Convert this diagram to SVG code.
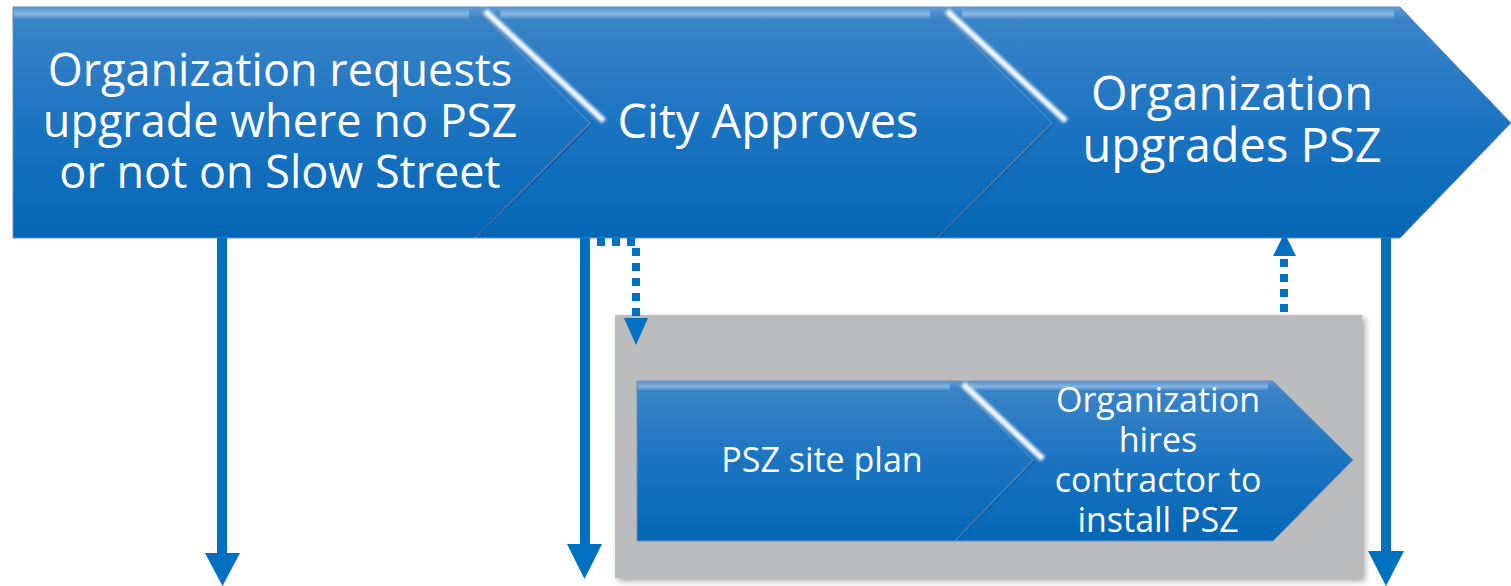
<svg xmlns="http://www.w3.org/2000/svg" width="1511" height="586" viewBox="0 0 1511 586">
<defs>
<linearGradient id="blueFill" x1="0" y1="0" x2="0" y2="1">
<stop offset="0" stop-color="#5e9cd6"/>
<stop offset="0.05" stop-color="#3a83c7"/>
<stop offset="0.5" stop-color="#1c74c1"/>
<stop offset="1" stop-color="#0366b5"/>
</linearGradient>
<linearGradient id="topHi" x1="0" y1="0" x2="0" y2="1">
<stop offset="0" stop-color="#ffffff" stop-opacity="0"/>
<stop offset="0.5" stop-color="#ffffff" stop-opacity="0.35"/>
<stop offset="1" stop-color="#ffffff" stop-opacity="0"/>
</linearGradient>
<filter id="blur2" x="-20%" y="-20%" width="140%" height="140%">
<feGaussianBlur stdDeviation="1.8"/>
</filter>
<filter id="shadow" x="-5%" y="-5%" width="110%" height="115%">
<feGaussianBlur in="SourceAlpha" stdDeviation="3"/>
<feOffset dx="3" dy="3"/>
<feComponentTransfer><feFuncA type="linear" slope="0.35"/></feComponentTransfer>
<feMerge><feMergeNode/><feMergeNode in="SourceGraphic"/></feMerge>
</filter>
</defs>
<style>
.shape{fill:url(#blueFill);stroke:#6c8fb8;stroke-width:1}
.glint{stroke:#ffffff;stroke-width:6;fill:none;filter:url(#blur2);opacity:0.95}
.shade{stroke:#0a5aa0;stroke-width:2;fill:none;opacity:0.5}
.lbl{font-family:"Open Sans","Noto Sans","Liberation Sans",sans-serif;fill:#ffffff;text-anchor:middle}
.big1{font-size:45px}
.big{font-size:47px}
.small{font-size:34px}
.solid{stroke:#0070c0;stroke-width:10;fill:none}
.dots{stroke:#0070c0;stroke-width:8;fill:none;stroke-dasharray:8 7}
.head{fill:#0070c0}
</style>

<g id="node-request">
<path class="shape" d="M13,7 L475,7 L590,123 L475,238 L13,238 Z"/>
<rect x="14" y="8" width="455" height="12" fill="url(#topHi)"/>
<text class="lbl big1" x="280" y="86">Organization requests</text>
<text class="lbl big1" x="280" y="137">upgrade where no PSZ</text>
<text class="lbl big1" x="280" y="188">or not on Slow Street</text>
</g>

<g id="node-approves">
<path class="shape" d="M475,7 L937,7 L1052,123 L937,238 L475,238 L590,123 Z"/>
<rect x="500" y="8" width="430" height="12" fill="url(#topHi)"/>
<line class="glint" x1="485" y1="11" x2="604" y2="121"/>
<line class="shade" x1="591" y1="125" x2="478" y2="236"/>
<text class="lbl big" x="768" y="138">City Approves</text>
</g>

<g id="node-upgrades">
<path class="shape" d="M937,7 L1400,7 L1511,123 L1400,238 L937,238 L1052,123 Z"/>
<rect x="962" y="8" width="432" height="12" fill="url(#topHi)"/>
<line class="glint" x1="947" y1="11" x2="1066" y2="121"/>
<line class="shade" x1="1053" y1="125" x2="940" y2="236"/>
<text class="lbl big" x="1232" y="110">Organization</text>
<text class="lbl big" x="1232" y="162">upgrades PSZ</text>
</g>

<g id="node-container">
<rect x="615" y="315" width="747" height="263" fill="#bbbcbe" filter="url(#shadow)"/>
</g>

<g id="node-siteplan">
<path class="shape" d="M637,381 L955,381 L1033,460 L955,541 L637,541 Z"/>
<rect x="638" y="382" width="312" height="9" fill="url(#topHi)"/>
<text class="lbl small" x="822" y="472">PSZ site plan</text>
</g>

<g id="node-hires">
<path class="shape" d="M955,381 L1273,381 L1353,460 L1273,541 L955,541 L1033,460 Z"/>
<rect x="970" y="382" width="298" height="9" fill="url(#topHi)"/>
<line class="glint" x1="963" y1="384" x2="1043" y2="459"/>
<line class="shade" x1="1034" y1="462" x2="958" y2="539"/>
<text class="lbl small" x="1158" y="412">Organization</text>
<text class="lbl small" x="1158" y="452">hires</text>
<text class="lbl small" x="1158" y="492">contractor to</text>
<text class="lbl small" x="1158" y="532">install PSZ</text>
</g>

<g id="connectors">
<line class="solid" x1="222" y1="238" x2="222" y2="555"/>
<path class="head" d="M205,553 L240,553 L222.5,586 Z"/>
<line class="solid" x1="585" y1="238" x2="585" y2="546"/>
<path class="head" d="M567,544 L602,544 L584.5,579 Z"/>
<line class="solid" x1="1386" y1="238" x2="1386" y2="553"/>
<path class="head" d="M1368,551 L1404,551 L1386,586 Z"/>
<path class="dots" d="M597,242 L636,242 L636,320"/>
<path class="head" d="M624,318 L648,318 L636,345 Z"/>
<line class="dots" x1="1284" y1="312" x2="1284" y2="257"/>
<path class="head" d="M1273,256 L1296,256 L1284.5,233 Z"/>
</g>
</svg>
